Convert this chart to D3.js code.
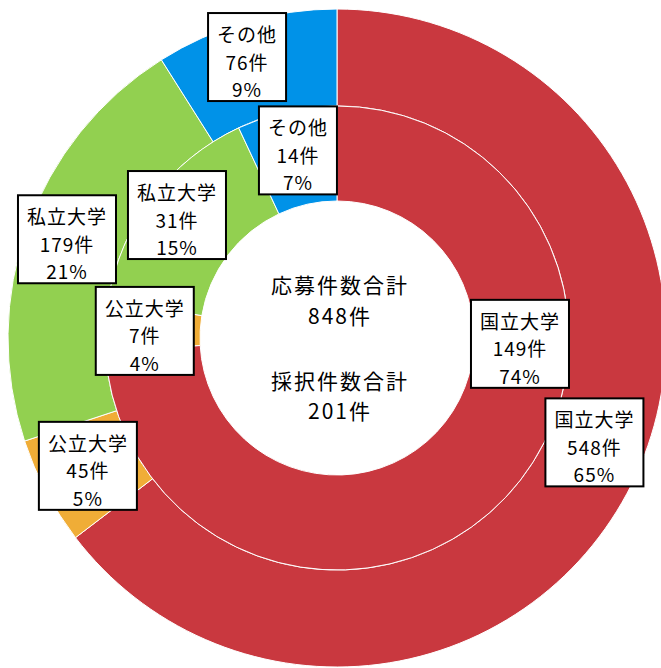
<!DOCTYPE html>
<html>
<head>
<meta charset="utf-8">
<script src="https://cdn.jsdelivr.net/npm/d3@7"></script>
<style>
  html, body { margin: 0; padding: 0; background: #fff; }
  svg { display: block; }
  text { font-family: "Noto Sans CJK JP", "Noto Sans", sans-serif; fill: #000; font-weight: 400; }
</style>
</head>
<body>
<div id="chart"></div>
<script>
// categories and values (outer ring = applications, inner ring = adopted)
const categories = ["国立大学", "公立大学", "私立大学", "その他"];
const appliedCounts = [548, 45, 179, 76];
const appliedPct = [65, 5, 21, 9];
const adoptedCounts = [149, 7, 31, 14];
const adoptedPct = [74, 4, 15, 7];
const sliceColors = ["#C9383F", "#F0AD37", "#92D050", "#0092E8"];

const centerTitles = ["応募件数合計", "採択件数合計"];

// label boxes were nudged off the slice centroids in the original
const outerShift = [[6, -20], [-1, -3], [-6, -4], [-12, -11.5]];
const innerShift = [[49, -121], [-8, 3], [-13, -11.5], [1, -7.5]];

var width = 661, height = 668;
var cx = 337, cy = 338;
var rHole = 137, rMid = 232, rOuter = 329;

var svg = d3.select("#chart")
    .append("svg")
    .attr("width", width)
    .attr("height", height);

var g = svg.append("g")
    .attr("transform", "translate(" + cx + "," + cy + ")");

var pie = d3.pie().sort(null).value(d => d.value);

function ringData(counts, pcts) {
    return categories.map((c, i) => ({ name: c, value: counts[i], pct: pcts[i], idx: i }));
}

var outerArcs = pie(ringData(appliedCounts, appliedPct));
var innerArcs = pie(ringData(adoptedCounts, adoptedPct));

var outerArc = d3.arc().innerRadius(rMid).outerRadius(rOuter);
var innerArc = d3.arc().innerRadius(rHole).outerRadius(rMid);

//Outer ring
g.selectAll(".outer")
    .data(outerArcs)
    .enter()
    .append("path")
    .attr("d", outerArc)
    .attr("fill", d => sliceColors[d.data.idx])
    .attr("stroke", "#fff")
    .attr("stroke-width", 1);

//Inner ring
g.selectAll(".inner")
    .data(innerArcs)
    .enter()
    .append("path")
    .attr("d", innerArc)
    .attr("fill", d => sliceColors[d.data.idx])
    .attr("stroke", "#fff")
    .attr("stroke-width", 1);

//Center text
var appliedTotal = d3.sum(appliedCounts);
var adoptedTotal = d3.sum(adoptedCounts);
var centerLines = [
    [centerTitles[0], -54],
    [appliedTotal + "件", -23],
    [centerTitles[1], 42],
    [adoptedTotal + "件", 72]
];
g.selectAll(".center")
    .data(centerLines)
    .enter()
    .append("text")
    .attr("x", 3)
    .attr("y", d => d[1])
    .attr("text-anchor", "middle")
    .attr("dominant-baseline", "central")
    .style("font-size", "21px")
    .style("letter-spacing", "2px")
    .text(d => d[0]);

//Labels
function drawLabels(arcs, arcGen, shift) {
    arcs.forEach(function (d) {
        var c = arcGen.centroid(d);
        var s = shift[d.data.idx];
        var x = c[0] + s[0], y = c[1] + s[1];
        var lg = g.append("g").attr("transform", "translate(" + x + "," + y + ")");
        var box = lg.append("rect");
        var lines = [d.data.name, d.data.value + "件", d.data.pct + "%"];
        var maxW = 0;
        lines.forEach(function (t, i) {
            var txt = lg.append("text")
                .attr("x", 0)
                .attr("y", -23.5 + i * 27.5)
                .attr("text-anchor", "middle")
                .attr("dominant-baseline", "central")
                .style("font-size", "19px")
                .style("letter-spacing", "1px")
                .text(t);
            maxW = Math.max(maxW, txt.node().getComputedTextLength());
        });
        var w = maxW + 18, h = 88;
        box.attr("x", -w / 2)
            .attr("y", -h / 2)
            .attr("width", w)
            .attr("height", h)
            .attr("fill", "#fff")
            .attr("stroke", "#000")
            .attr("stroke-width", 2);
    });
}

drawLabels(outerArcs, outerArc, outerShift);
drawLabels(innerArcs, innerArc, innerShift);
</script>
</body>
</html>
